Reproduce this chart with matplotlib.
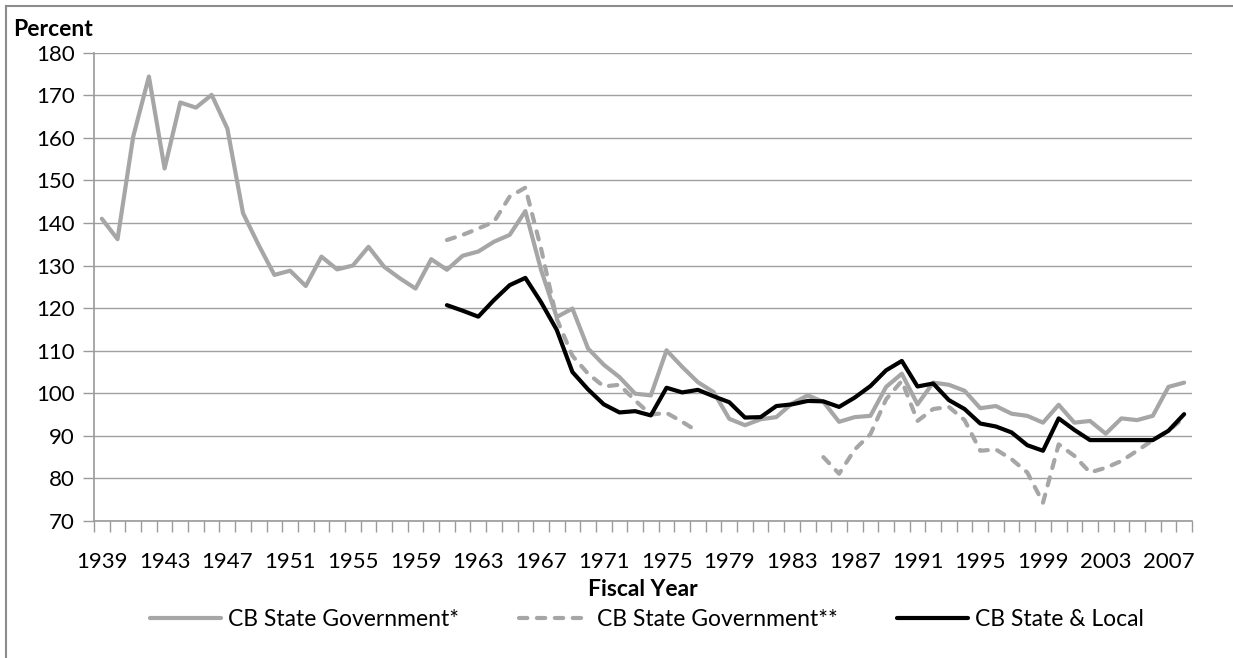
import matplotlib
matplotlib.use("Agg")
import matplotlib.pyplot as plt
from matplotlib.lines import Line2D
import numpy as np

years = list(range(1939, 2009))

state_gov_1 = [141.0, 136.2, 160.3, 174.4, 152.8, 168.3, 167.1, 170.1, 162.2, 142.3,
               134.8, 127.8, 128.8, 125.2, 132.1, 129.1, 130.0, 134.4, 129.7, 127.0,
               124.6,
               131.5, 129.0, 132.3, 133.3, 135.6, 137.2, 142.8, 129.0, 117.9, 119.9,
               110.5, 106.7, 103.8, 99.9, 99.5, 110.1, 106.2, 102.6, 100.3, 94.0,
               92.5, 93.9, 94.4, 97.6, 99.5, 98.0, 93.3, 94.4, 94.7, 101.5,
               104.6, 97.4, 102.5, 102.0, 100.6, 96.5, 97.0, 95.2, 94.7, 93.1,
               97.3, 93.1, 93.5, 90.5, 94.1, 93.7, 94.7, 101.5, 102.5]

state_gov_2 = [None] * 22 + [
    136.0, 137.2, 138.7, 140.3, 146.2, 148.3, 134.0, 117.5, 108.8,
    104.6, 101.6, 102.0, 98.3, 95.0, 95.4, 93.3, 91.0] + [None] * 7 + [
    85.0, 81.1, 86.8, 90.4, 98.6,
    102.9, 93.5, 96.3, 96.8, 93.7, 86.5, 86.8, 84.5, 81.4, 74.3,
    88.0, 85.3, 81.4, 82.5, 84.1, 86.5, 89.0, 91.2, 94.3]

state_local = [None] * 22 + [
    120.7, 119.4, 118.0, 121.9, 125.4, 127.1, 121.4, 114.9, 105.0,
    100.9, 97.4, 95.5, 95.8, 94.8, 101.3, 100.2, 100.8, 99.3, 97.9,
    94.3, 94.4, 97.0, 97.4, 98.2, 98.1, 96.8, 99.0, 101.7, 105.4,
    107.6, 101.6, 102.3, 98.4, 96.3, 92.9, 92.2, 90.8, 87.8, 86.5,
    94.1, 91.4, 89.0, 89.0, 89.0, 89.0, 89.0, 91.2, 95.1]

series_labels = ["CB State Government*", "CB State Government**", "CB State & Local"]
y_ticks = list(range(70, 181, 10))

FONT = "Lato"
GRAY = "#A6A6A6"
GRID = "#A0A0A0"
AXC = "#9A9A9A"
DASH = (0, (2.0, 2.3))

W, H = 1233, 658
fig = plt.figure(figsize=(W / 100, H / 100), dpi=100)
fig.patch.set_facecolor("white")

left, right, top, bottom = 94, 1192, 52.7, 521
ax = fig.add_axes([left / W, 1 - bottom / H, (right - left) / W, (bottom - top) / H])

x = np.arange(len(years))

def arr(v):
    return np.array([np.nan if a is None else a for a in v], dtype=float)

common = dict(solid_joinstyle="round", dash_joinstyle="round", solid_capstyle="round")
ax.plot(x, arr(state_gov_1), color=GRAY, lw=3.0, label=series_labels[0], zorder=3, **common)
ax.plot(x, arr(state_gov_2), color=GRAY, lw=3.0, label=series_labels[1], zorder=4,
        linestyle=DASH, dash_capstyle="round",
        solid_joinstyle="round", dash_joinstyle="round")
ax.plot(x, arr(state_local), color="black", lw=3.0, label=series_labels[2], zorder=5, **common)

ax.set_xlim(-0.5, len(years) - 0.5)
ax.set_ylim(70, 180)
ax.set_yticks(y_ticks)
ax.yaxis.grid(True, color=GRID, lw=1.0)
ax.set_axisbelow(True)

for s in ["top", "right"]:
    ax.spines[s].set_visible(False)
for s in ["left", "bottom"]:
    ax.spines[s].set_color(AXC)
    ax.spines[s].set_linewidth(1.2)

label_idx = list(range(0, len(years), 4))
ax.set_xticks(label_idx)
ax.set_xticklabels([str(years[i]) for i in label_idx], fontsize=16, family=FONT)
ax.set_xticks(np.arange(-0.5, len(years) + 0.5, 1), minor=True)
ax.tick_params(axis="x", which="major", length=0, pad=22)
ax.tick_params(axis="x", which="minor", length=8, color=AXC, width=1.0, direction="out")
ax.tick_params(axis="y", which="major", length=8, color=AXC, width=1.0, pad=6,
               labelsize=16)
for t in ax.get_yticklabels():
    t.set_family(FONT)

fig.text(13 / W, 1 - 29 / H, "Percent", fontsize=16.5, fontweight="bold", family=FONT,
         ha="left", va="center")
fig.text((left + right) / 2 / W, 1 - 590 / H, "Fiscal Year", fontsize=16.5,
         fontweight="bold", family=FONT, ha="center", va="center")

handles = [
    Line2D([], [], color=GRAY, lw=3.0, solid_capstyle="round"),
    Line2D([], [], color=GRAY, lw=3.0, linestyle=DASH, dash_capstyle="round"),
    Line2D([], [], color="black", lw=3.0, solid_capstyle="round"),
]
leg = fig.legend(handles, series_labels, loc="center", bbox_to_anchor=(647 / W, 1 - 620 / H),
                 ncol=3, frameon=False, handlelength=3.1, handletextpad=0.3,
                 columnspacing=2.6, prop={"family": FONT, "size": 16.5})

# outer frame (top and left edges visible)
fig.add_artist(Line2D([6 / W, 1.0], [1 - 6 / H, 1 - 6 / H], color="#8C8C8C", lw=1.5,
                      transform=fig.transFigure))
fig.add_artist(Line2D([6 / W, 6 / W], [0.0, 1 - 6 / H], color="#8C8C8C", lw=1.5,
                      transform=fig.transFigure))

fig.savefig("out.png", dpi=100, facecolor="white")
